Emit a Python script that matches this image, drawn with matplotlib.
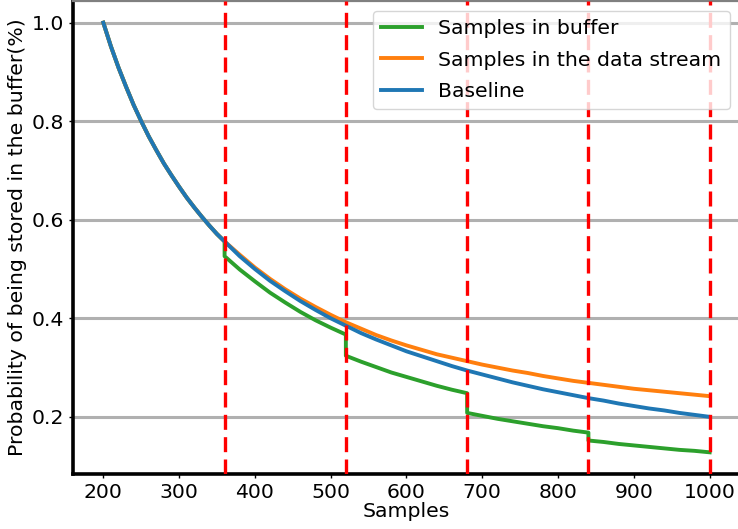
import matplotlib
matplotlib.use("Agg")
import matplotlib.pyplot as plt

# ---- data ----
x_base = [200, 210, 220, 230, 240, 250, 260, 270, 280, 290, 300, 310, 320, 330, 340, 350, 360,
          380, 400, 420, 440, 460, 480, 500,
          520, 540, 560, 580, 600, 620, 640, 660, 680, 700, 720, 740, 760, 780, 800, 820,
          840, 860, 880, 900, 920, 940, 960, 980, 1000]
baseline = [1.0, 0.952, 0.909, 0.870, 0.833, 0.8, 0.769, 0.741, 0.714, 0.690, 0.667, 0.645,
            0.625, 0.606, 0.588, 0.571, 0.556,
            0.526, 0.5, 0.476, 0.455, 0.435, 0.417, 0.4,
            0.385, 0.370, 0.357, 0.345, 0.333, 0.323, 0.313, 0.303,
            0.294, 0.286, 0.278, 0.270, 0.263, 0.256, 0.25, 0.244, 0.238, 0.233, 0.227, 0.222,
            0.217, 0.213, 0.208, 0.204, 0.2]
stream = [1.0, 0.952, 0.909, 0.870, 0.833, 0.8, 0.769, 0.741, 0.714, 0.690, 0.667, 0.645,
          0.625, 0.606, 0.588, 0.571, 0.556,
          0.529, 0.503, 0.480, 0.459, 0.440, 0.423, 0.407,
          0.392, 0.379, 0.366, 0.355, 0.345, 0.336, 0.327, 0.320,
          0.313, 0.306, 0.300, 0.294, 0.289, 0.283, 0.278, 0.273, 0.269, 0.265, 0.261, 0.257,
          0.254, 0.251, 0.248, 0.245, 0.242]
x_buf = [200, 210, 220, 230, 240, 250, 260, 270, 280, 290, 300, 310, 320, 330, 340, 350, 360,
         360, 380, 400, 420, 440, 460, 480, 500, 520,
         520, 540, 560, 580, 600, 620, 640, 660, 680,
         680, 700, 720, 740, 760, 780, 800, 820, 840,
         840, 860, 880, 900, 920, 940, 960, 980, 1000]
buffer = [1.0, 0.952, 0.909, 0.870, 0.833, 0.8, 0.769, 0.741, 0.714, 0.690, 0.667, 0.645,
          0.625, 0.606, 0.588, 0.571, 0.556,
          0.526, 0.499, 0.475, 0.452, 0.432, 0.413, 0.396, 0.381, 0.367,
          0.324, 0.312, 0.301, 0.290, 0.281, 0.272, 0.263, 0.255, 0.248,
          0.208, 0.202, 0.196, 0.191, 0.186, 0.181, 0.177, 0.172, 0.168,
          0.152, 0.149, 0.145, 0.142, 0.139, 0.136, 0.133, 0.131, 0.128]
boundaries = [360, 520, 680, 840, 1000]
xticks = [200, 300, 400, 500, 600, 700, 800, 900, 1000]
yticks = [0.2, 0.4, 0.6, 0.8, 1.0]

FS = 14.7

fig = plt.figure(figsize=(7.38, 5.29), dpi=100)
ax = fig.add_axes([73/738, 55/529, 667/738, 473/529])

ax.grid(axis='y', color='#b0b0b0', linewidth=2.2, zorder=0)
ax.set_axisbelow(True)

ax.plot(x_buf, buffer, color='#2ca02c', linewidth=2.8, label='Samples in buffer', zorder=2)
ax.plot(x_base, stream, color='#ff7f0e', linewidth=2.8, label='Samples in the data stream', zorder=2)
ax.plot(x_base, baseline, color='#1f77b4', linewidth=2.8, label='Baseline', zorder=2)
for b in boundaries:
    ax.axvline(b, color='red', linewidth=2.4, linestyle=(0, (4.5, 2.2)), zorder=3)

ax.set_xlim(160, 1040)
ax.set_ylim(0.084, 1.044)
ax.set_xticks(xticks)
ax.set_yticks(yticks)
ax.tick_params(labelsize=FS, length=3, width=1)

for s in ['left', 'bottom']:
    ax.spines[s].set_linewidth(2.6)
    ax.spines[s].set_color('black')
ax.spines['top'].set_color('#808080')
ax.spines['top'].set_linewidth(1.6)

ax.set_xlabel('Samples', fontsize=FS, labelpad=0)
ax.set_ylabel('Probability of being stored in the buffer(%)', fontsize=FS, labelpad=3)

leg = ax.legend(loc='upper right', fontsize=FS, framealpha=0.8, labelspacing=0.6)
leg.set_zorder(5)

fig.savefig('out.png', dpi=100)
